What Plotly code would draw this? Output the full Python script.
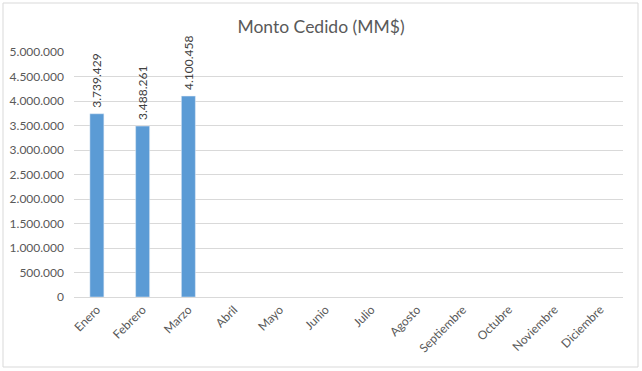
import plotly.graph_objects as go

months = ["Enero", "Febrero", "Marzo", "Abril", "Mayo", "Junio", "Julio",
          "Agosto", "Septiembre", "Octubre", "Noviembre", "Diciembre"]
values = [3739429, 3488261, 4100458, None, None, None, None, None, None, None, None, None]
tick_vals = [0, 500000, 1000000, 1500000, 2000000, 2500000, 3000000,
             3500000, 4000000, 4500000, 5000000]
title = "Monto Cedido (MM$)"

W, H = 642, 371
ml, mr, mt, mb = 74, 19, 52, 74
pw, ph = W - ml - mr, H - mt - mb

fig = go.Figure(go.Bar(
    x=months, y=values,
    marker_color="#5b9bd5",
    text=["\u00a0" + f"{v:,}".replace(",", ".") if v is not None else "" for v in values],
    textposition="outside", textangle=-90, constraintext="none",
    textfont=dict(size=12, color="#404040"),
    cliponaxis=False,
))

fig.update_layout(
    width=W, height=H,
    margin=dict(l=ml, r=mr, t=mt, b=mb, autoexpand=False),
    paper_bgcolor="white", plot_bgcolor="white",
    font=dict(family="Lato, Open Sans, sans-serif", color="#595959", size=12),
    separators=",.",
    title=dict(text=title, x=0.5, xanchor="center", y=1 - 27 / H, yanchor="middle",
               font=dict(size=17.5, color="#595959")),
    bargap=0.694,
    showlegend=False,
    xaxis=dict(tickangle=-45, showgrid=False, showline=True, linecolor="#d9d9d9",
               ticks="", automargin=False, tickfont=dict(size=12, color="#595959")),
    yaxis=dict(range=[0, 5000000], tickvals=tick_vals, tickformat=",.0f",
               showgrid=True, gridcolor="#d9d9d9", zeroline=False, showline=False,
               ticks="", automargin=False, ticklabelstandoff=9,
               tickfont=dict(size=12, color="#595959")),
    shapes=[dict(type="rect", xref="paper", yref="paper",
                 x0=(3 - ml) / pw, x1=(638 - ml) / pw,
                 y0=(H - mb - 367) / ph, y1=(H - mb - 3) / ph,
                 line=dict(color="#d9d9d9", width=1), layer="below")],
)

fig.write_html("out.html", config={"displayModeBar": False},
               post_script="document.body.style.margin='0';document.body.style.overflow='hidden';")
